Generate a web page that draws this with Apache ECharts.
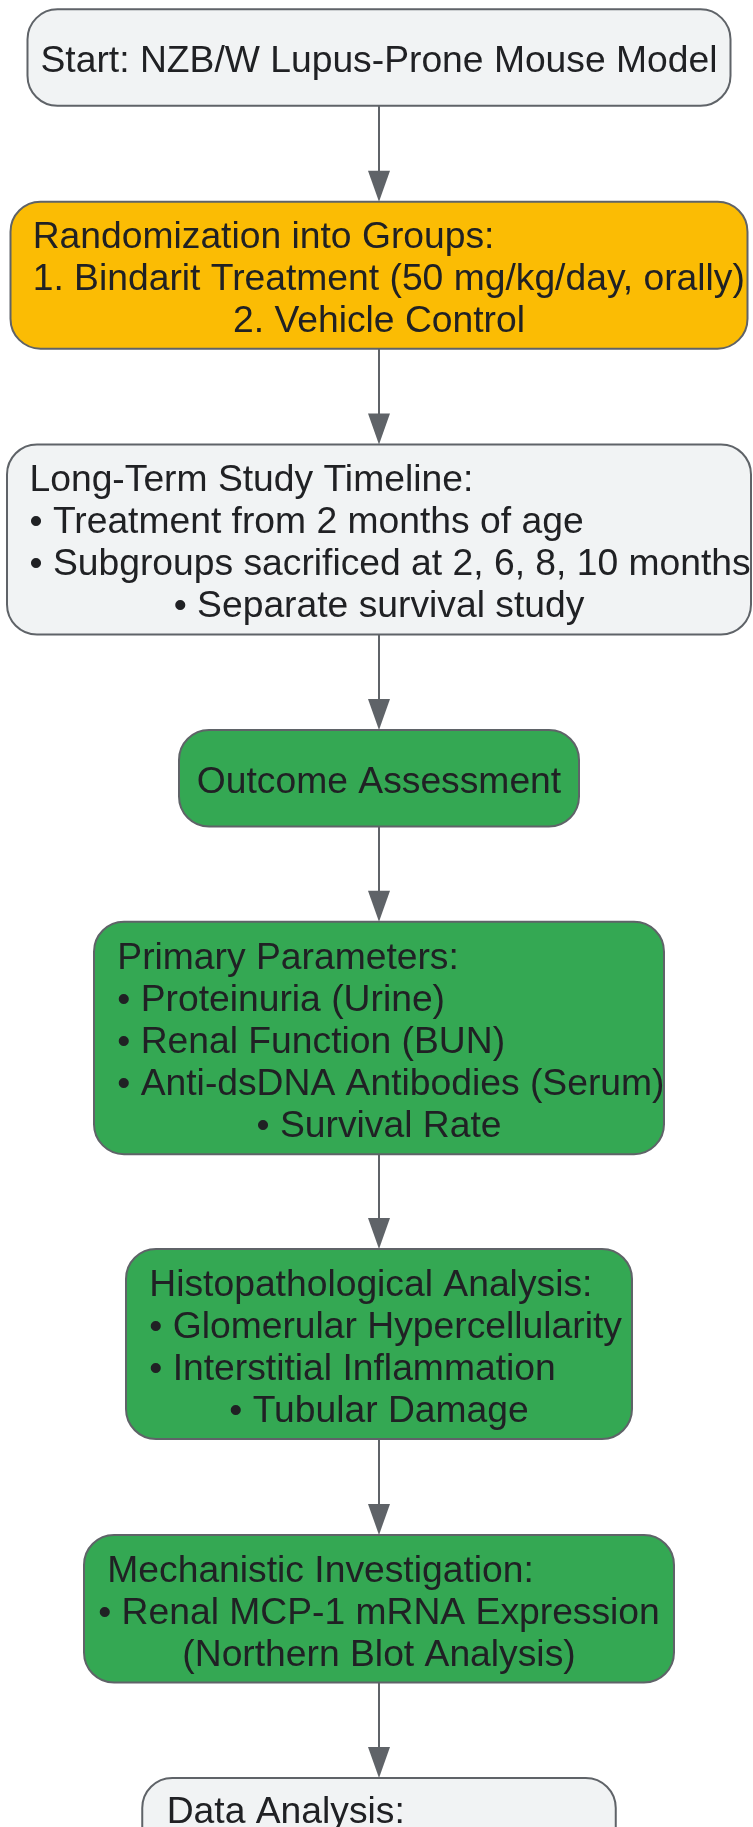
<!DOCTYPE html>
<html>
<head>
<meta charset="utf-8">
<title>Bindarit NZB/W study flowchart</title>
<script src="https://cdn.jsdelivr.net/npm/echarts@6/dist/echarts.min.js"></script>
<style>
  html, body { margin: 0; padding: 0; background: #ffffff; }
  #chart { width: 753px; height: 1827px; }
</style>
</head>
<body>
<div id="chart"></div>
<script>
// node texts, top to bottom
const nodeLines = [
  ['Start: NZB/W Lupus-Prone Mouse Model'],
  ['Randomization into Groups:', '1. Bindarit Treatment (50 mg/kg/day, orally)', '2. Vehicle Control'],
  ['Long-Term Study Timeline:', '\u2022 Treatment from 2 months of age', '\u2022 Subgroups sacrificed at 2, 6, 8, 10 months', '\u2022 Separate survival study'],
  ['Outcome Assessment'],
  ['Primary Parameters:', '\u2022 Proteinuria (Urine)', '\u2022 Renal Function (BUN)', '\u2022 Anti-dsDNA Antibodies (Serum)', '\u2022 Survival Rate'],
  ['Histopathological Analysis:', '\u2022 Glomerular Hypercellularity', '\u2022 Interstitial Inflammation', '\u2022 Tubular Damage'],
  ['Mechanistic Investigation:', '\u2022 Renal MCP-1 mRNA Expression', '(Northern Blot Analysis)'],
  ['Data Analysis:']
]
const nodeKinds = ['start', 'group', 'start', 'step', 'step', 'step', 'step', 'start']

// layout (px)
const CX = 379
const boxTop = [9.3, 201.7, 444.5, 730, 921.7, 1249, 1535, 1778]
const boxHeight = [96.5, 147, 190, 96.5, 232.5, 190, 147.5, 260]
const boxWidth = [703, 737, 744, 400, 570, 506, 590, 473.5]
const textLeft = [null, 32.7, 29.5, null, 117.3, 149.3, 107.3, 166.7]
// L = left at textLeft, C = centred on the box
const lineAlign = [
  ['C'], ['L', 'L', 'C'], ['L', 'L', 'L', 'C'], ['C'],
  ['L', 'L', 'L', 'L', 'C'], ['L', 'L', 'L', 'C'], ['L', 'C', 'C'], ['L']
]

const LINE_H = 42
const FONT = '37.25px "Liberation Sans", Arial, sans-serif'
const kindStyle = {
  start: { fill: '#f1f3f4' },
  group: { fill: '#fbbc04' },
  step: { fill: '#34a853' }
}

const chart = echarts.init(document.getElementById('chart'), null, { renderer: 'canvas' })

const elements = []

nodeLines.forEach((lines, i) => {
  const w = boxWidth[i]
  const x = CX - w / 2
  const y = boxTop[i]
  const h = boxHeight[i]
  elements.push({
    type: 'rect',
    shape: { x: x, y: y, width: w, height: h, r: 30 },
    style: { fill: kindStyle[nodeKinds[i]].fill, stroke: '#5f6368', lineWidth: 2 },
    silent: true
  })
  const n = lines.length
  // last node runs off the bottom of the page, so its text hangs from the top
  const firstY = i === nodeLines.length - 1
    ? y + 34.5
    : y + h / 2 - (n - 1) / 2 * LINE_H + 4.5
  lines.forEach((t, j) => {
    const left = lineAlign[i][j] === 'L'
    elements.push({
      type: 'text',
      silent: true,
      z: 10,
      style: {
        text: t,
        x: left ? textLeft[i] : CX,
        y: firstY + j * LINE_H,
        align: left ? 'left' : 'center',
        verticalAlign: 'middle',
        font: FONT,
        fill: '#202124'
      }
    })
  })
})

// connectors
for (let i = 0; i < nodeLines.length - 1; i++) {
  const y0 = boxTop[i] + boxHeight[i]
  const y1 = boxTop[i + 1]
  elements.push({
    type: 'line',
    silent: true,
    shape: { x1: CX, y1: y0, x2: CX, y2: y1 - 28 },
    style: { stroke: '#5f6368', lineWidth: 2 }
  })
  elements.push({
    type: 'polygon',
    silent: true,
    shape: { points: [[CX - 11, y1 - 31], [CX + 11, y1 - 31], [CX, y1]] },
    style: { fill: '#5f6368' }
  })
}

chart.setOption({
  backgroundColor: '#ffffff',
  animation: false,
  graphic: { elements: elements }
})
</script>
</body>
</html>
